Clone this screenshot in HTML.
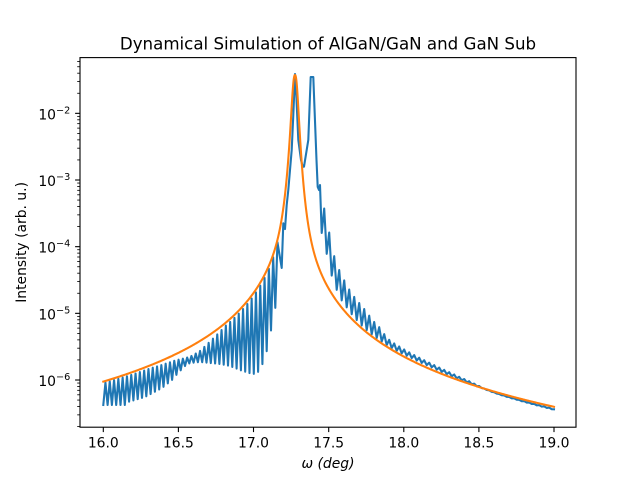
<!DOCTYPE html>
<html>
<head>
<meta charset="utf-8">
<style>
html,body{margin:0;padding:0;background:#fff;}
svg{display:block;}
text{font-family:"DejaVu Sans","Liberation Sans",sans-serif;fill:#000;}
</style>
</head>
<body>
<svg id="s" width="640" height="480" viewBox="0 0 640 480" xmlns="http://www.w3.org/2000/svg">
<rect x="0" y="0" width="640" height="480" fill="#fff"/>
<g id="curves"></g>
<rect x="80" y="57.6" width="496" height="369.6" fill="none" stroke="#000" stroke-width="1.1"/>
<g id="ticks" stroke="#000"></g>
<g font-size="13.9" text-anchor="middle">
<text x="103.3" y="447.5">16.0</text>
<text x="178.4" y="447.5">16.5</text>
<text x="253.5" y="447.5">17.0</text>
<text x="328.7" y="447.5">17.5</text>
<text x="403.8" y="447.5">18.0</text>
<text x="478.9" y="447.5">18.5</text>
<text x="554.0" y="447.5">19.0</text>
</g>
<g font-size="13.9" text-anchor="end">
<text x="70.3" y="119.3">10<tspan font-size="9.7" dy="-6">−2</tspan></text>
<text x="70.3" y="186">10<tspan font-size="9.7" dy="-6">−3</tspan></text>
<text x="70.3" y="252.7">10<tspan font-size="9.7" dy="-6">−4</tspan></text>
<text x="70.3" y="319.3">10<tspan font-size="9.7" dy="-6">−5</tspan></text>
<text x="70.3" y="386">10<tspan font-size="9.7" dy="-6">−6</tspan></text>
</g>
<text x="328" y="468" font-size="13.9" text-anchor="middle"><tspan font-style="italic">ω</tspan> <tspan font-style="italic">(deg)</tspan></text>
<text x="26" y="242.4" font-size="13.9" text-anchor="middle" transform="rotate(-90 26 242.4)">Intensity (arb. u.)</text>
<text x="328" y="49.3" font-size="16.67" text-anchor="middle">Dynamical Simulation of AlGaN/GaN and GaN Sub</text>
</svg>
<script>
(function(){
var NS="http://www.w3.org/2000/svg";
var X0=103.3,SX=150.23;
function xv(p){return 16+(p-X0)/SX;}
function py(L){return 113.333-(L+2)*66.667;}
function orangeL(x){
  var d=x-17.276,a=Math.abs(d);
  var w=d<0?0.0064+0.0193*Math.exp(-a/0.03):0.0056+0.0200*Math.exp(-a/0.03);
  return -1.425-Math.log10(1+(a/w)*(a/w));
}
function oPy(p){return py(orangeL(xv(p)));}
function lin(arr,p){
  if(p<=arr[0][0])return arr[0][1];
  for(var i=1;i<arr.length;i++){
    if(p<=arr[i][0]){var a=arr[i-1],b=arr[i];return a[1]+(b[1]-a[1])*(p-a[0])/(b[0]-a[0]);}
  }
  return arr[arr.length-1][1];
}
var upOffL=[[103,1.5],[150,3],[175,6],[190,10],[200,10],[210,7],[225,3],[250,3],[270,3],[283,2]];
var lowL=[[103,405],[125,405],[128,402],[145,397],[162,388],[172,380],[178,373],[185,366],[190,363],[200,362],[210,363],[220,364],[230,366],[240,370],[250,373.3],[255,374],[258,372],[263,363],[268,347],[272,325],[277,299],[282,268]];
var peak=[[281.7,268],[283.3,223.3],[285,229],[286.7,205],[288.3,190],[291.7,150],[293.3,115],[295,74],[296.3,95],[298.3,140],[301,160],[302.7,166.7],[304,166.7],[308.3,140],[310.7,77],[313.3,77],[316.5,160],[317.7,187],[319,190],[320,185]];
var upAbsR=[[320,185],[325,213],[329.3,233],[335,260],[340,272],[345,282],[350,291],[355,298],[360,304],[365,310],[370,316.7],[375,323],[380,328]];
var upOffR=[[380,-13],[390,-8],[410,-7],[430,-6],[450,-4.5],[470,-2.5],[485,0],[500,1],[554,2]];
var lowAbsR=[[321.7,233],[327.7,258],[332.7,280],[338,293],[343,303]];
var lowOffR=[[343,-7.5],[350,-5],[360,-3],[370,-2],[380,-2],[390,-1.5],[410,-2.5],[430,-2.5],[450,-1.5],[470,-0.5],[485,0.5],[500,1.5],[554,3]];
var pts=[];
var i=0,p;
for(p=103.3;p<=279.5;p+=2.15,i++){
  var up=oPy(p)+lin(upOffL,p),lo=lin(lowL,p);
  if(lo<up)lo=up;
  pts.push([p,(i%2==0)?lo:up]);
}
for(i=0;i<peak.length;i++)pts.push(peak[i]);
i=0;
for(p=321.7;p<=554;p+=2.5,i++){
  var u=p<380?lin(upAbsR,p):oPy(p)+lin(upOffR,p);
  var l=p<343?lin(lowAbsR,p):oPy(p)+lin(lowOffR,p);
  if(l<u)l=u;
  pts.push([p,(i%2==0)?l:u]);
}
var endU=oPy(554)+2,endL=oPy(554)+3;
pts.push([554,(endU+endL)/2]);
function toD(a){var s="M"+a[0][0].toFixed(2)+" "+a[0][1].toFixed(2);for(var k=1;k<a.length;k++)s+="L"+a[k][0].toFixed(2)+" "+a[k][1].toFixed(2);return s;}
var g=document.getElementById("curves");
var b=document.createElementNS(NS,"path");
b.setAttribute("d",toD(pts));b.setAttribute("fill","none");b.setAttribute("stroke","#1f77b4");
b.setAttribute("stroke-width","2.08");b.setAttribute("stroke-linejoin","round");b.setAttribute("stroke-linecap","square");
g.appendChild(b);
var op=[];
for(p=103.3;p<=554.01;p+=((Math.abs(p-295)<25)?0.2:0.8)){op.push([p,oPy(p)]);}
op.push([554,oPy(554)]);
var o=document.createElementNS(NS,"path");
o.setAttribute("d",toD(op));o.setAttribute("fill","none");o.setAttribute("stroke","#ff7f0e");
o.setAttribute("stroke-width","2.08");o.setAttribute("stroke-linejoin","round");o.setAttribute("stroke-linecap","square");
g.appendChild(o);
var t=document.getElementById("ticks");
function line(x1,y1,x2,y2,w){var l=document.createElementNS(NS,"line");l.setAttribute("x1",x1);l.setAttribute("y1",y1);l.setAttribute("x2",x2);l.setAttribute("y2",y2);l.setAttribute("stroke-width",w);t.appendChild(l);}
var xt=[103.3,178.4,253.5,328.7,403.8,478.9,554.0];
for(i=0;i<xt.length;i++)line(xt[i],427.2,xt[i],432.1,1.1);
for(var dec=-7;dec<=-1;dec++){
  var base=py(dec);
  if(base>=57.6&&base<=427.2)line(75.1,base,80,base,1.1);
  for(var k=2;k<=9;k++){
    var y=py(dec+Math.log10(k));
    if(y>=57.6&&y<=427.2)line(77.2,y,80,y,0.83);
  }
}
})();
</script>
</body>
</html>
